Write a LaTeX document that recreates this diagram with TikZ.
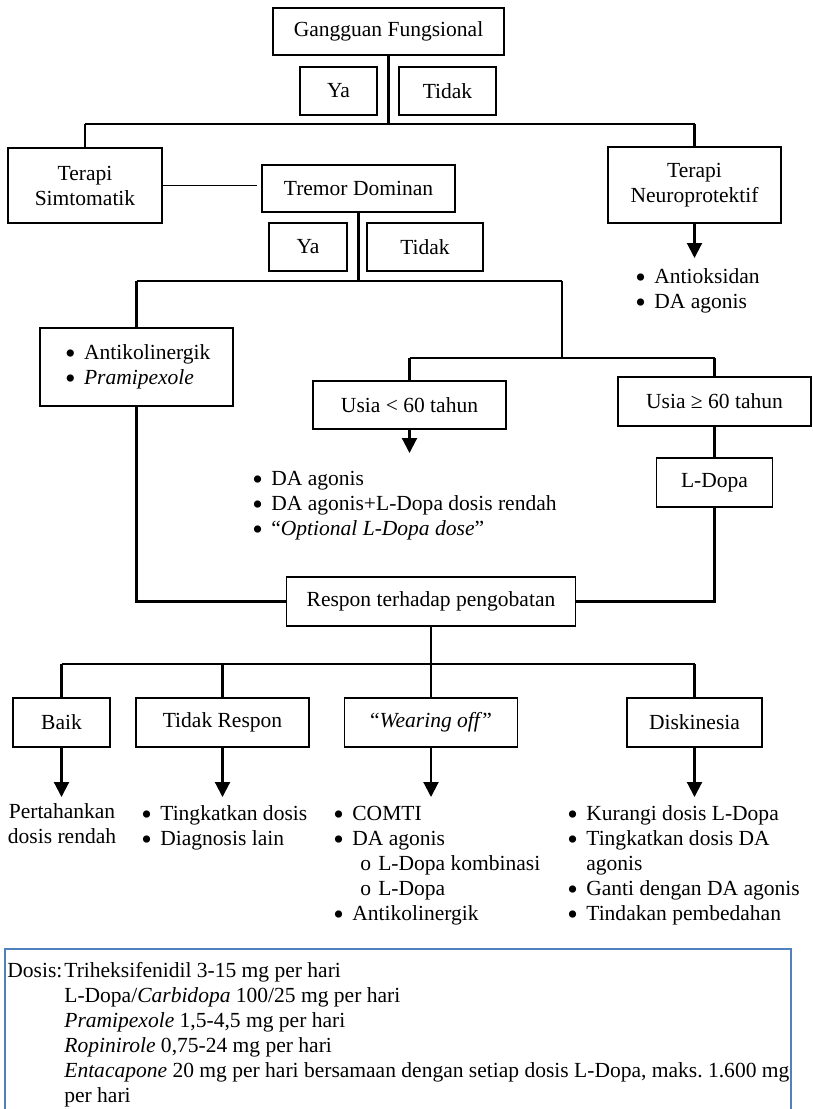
\documentclass[tikz,border=0pt]{standalone}
\usepackage{fontspec}
\setmainfont{Liberation Serif}
\usetikzlibrary{arrows.meta}
\definecolor{boxblue}{HTML}{4F81BD}
\newlength\pxu
\setlength\pxu{0.02cm}
\newcommand\bul[1]{\strut\makebox[19\pxu][l]{\raisebox{-0.18em}{\scalebox{1.4}{•}}}#1}
\newcommand\subbul[1]{\strut\hspace*{27\pxu}\makebox[18\pxu][l]{o}#1}

\begin{document}
\frenchspacing
\begin{tikzpicture}[x=0.02cm,y=-0.02cm,
    every node/.style={font=\fontsize{12.25}{14.23}\selectfont},
    box/.style={draw,line width=1.1pt,inner sep=0pt},
    conn/.style={line width=1.2pt},
    bar/.style={line width=1.6pt},
    arr/.style={line width=1.2pt,-{Triangle[length=0.3cm,width=0.3cm]}},
    lst/.style={anchor=north west,inner sep=0pt,align=left}]
  \useasboundingbox (0,0) rectangle (812,1109);
  % boxes
  \node[box,minimum width=231\pxu,minimum height=47\pxu] (gf) at (388.5,31.5) {Gangguan Fungsional};
  \node[box,minimum width=77\pxu,minimum height=48\pxu] (ya1) at (338.5,91) {Ya};
  \node[box,minimum width=97\pxu,minimum height=48\pxu] (tidak1) at (447.5,91) {Tidak};
  \node[box,align=center,minimum width=154\pxu,minimum height=75\pxu] (ts) at (85,185.5) {Terapi\\Simtomatik};
  \node[box,minimum width=193\pxu,minimum height=47\pxu] (td) at (358.5,188.5) {Tremor Dominan};
  \node[box,align=center,minimum width=173\pxu,minimum height=76\pxu] (tn) at (694.5,185) {Terapi\\Neuroprotektif};
  \node[box,minimum width=78\pxu,minimum height=48\pxu] (ya2) at (308,247) {Ya};
  \node[box,minimum width=116\pxu,minimum height=48\pxu] (tidak2) at (425,247) {Tidak};
  \node[box,align=left,text width=143\pxu,inner xsep=25\pxu,inner ysep=14\pxu] (ak) at (136.5,367) {\bul{Antikolinergik}\\\bul{\textit{Pramipexole}}};
  \node[box,minimum width=193\pxu,minimum height=48\pxu] (muda) at (409.5,405) {Usia < 60 tahun};
  \node[box,minimum width=193\pxu,minimum height=49\pxu] (tua) at (714.5,401.5) {Usia ≥ 60 tahun};
  \node[box,minimum width=116\pxu,minimum height=49\pxu] (ldopa) at (714.5,482.5) {L-Dopa};
  \node[box,minimum width=289\pxu,minimum height=49\pxu] (resp) at (431,601.5) {Respon terhadap pengobatan};
  \node[box,minimum width=97\pxu,minimum height=49\pxu] (baik) at (61.5,722.5) {Baik};
  \node[box,minimum width=173\pxu,minimum height=49\pxu] (tr) at (222.5,722.5) {Tidak Respon};
  \node[box,minimum width=173\pxu,minimum height=49\pxu] (wo) at (431,722.5) {“\textit{Wearing off}”};
  \node[box,minimum width=135\pxu,minimum height=49\pxu] (dk) at (694.5,722.5) {Diskinesia};
  % lists
  \node[lst] (nplist) at (635,265.5) {\bul{Antioksidan}\\\bul{DA agonis}};
  \node[lst] (mudalist) at (252,467.5) {\bul{DA agonis}\\\bul{DA agonis+L-Dopa dosis rendah}\\\bul{“\textit{Optional L-Dopa dose}”}};
  \node[anchor=north,inner sep=0pt,align=center] (baiklist) at (62,800.5) {\strut Pertahankan\\\strut dosis rendah};
  \node[lst] (trlist) at (141,802.5) {\bul{Tingkatkan dosis}\\\bul{Diagnosis lain}};
  \node[lst] (wolist) at (333,802.5) {\bul{COMTI}\\\bul{DA agonis}\\\subbul{L-Dopa kombinasi}\\\subbul{L-Dopa}\\\bul{Antikolinergik}};
  \node[lst] (dklist) at (567,802.5) {\bul{Kurangi dosis L-Dopa}\\\bul{Tingkatkan dosis DA}\\\strut\hspace*{19\pxu}agonis\\\bul{Ganti dengan DA agonis}\\\bul{Tindakan pembedahan}};
  % dosis
  \draw[boxblue,line width=1.1pt] (5,1109) -- (5,949) -- (791,949) -- (791,1109);
  \node[lst] (dosis) at (7,959.5) {\strut\makebox[57\pxu][l]{Dosis:}Triheksifenidil 3-15 mg per hari\\
    \strut\hspace*{57\pxu}L-Dopa/\textit{Carbidopa} 100/25 mg per hari\\
    \strut\hspace*{57\pxu}\textit{Pramipexole} 1,5-4,5 mg per hari\\
    \strut\hspace*{57\pxu}\textit{Ropinirole} 0,75-24 mg per hari\\
    \strut\hspace*{57\pxu}\textit{Entacapone} 20 mg per hari bersamaan dengan setiap dosis L-Dopa, maks. 1.600 mg\\
    \strut\hspace*{57\pxu}per hari};
  % connectors
  \coordinate (h1) at (0,124);
  \coordinate (h2) at (0,281);
  \coordinate (h2r) at (562,281);
  \coordinate (h3) at (562,358);
  \coordinate (h4) at (0,664);
  \coordinate (tnend) at (694.5,258);
  \coordinate (mudaend) at (409.5,453);
  \coordinate (tip) at (0,797);
  \draw[conn] (gf.south) -- (gf.south |- h1);
  \draw[conn] (ts.north) -- (ts.north |- h1);
  \draw[conn] (tn.north) -- (tn.north |- h1);
  \draw[bar] (ts.north |- h1) -- (tn.north |- h1);
  \draw[line width=0.6pt,shorten >=4\pxu] (ts.east) -- (ts.east -| td.west);
  \draw[arr] (tn.south) -- (tnend);
  \draw[conn] (td.south) -- (td.south |- h2);
  \draw[conn] (ak.north) -- (ak.north |- h2);
  \draw[bar] (ak.north |- h2) -- (h2r);
  \draw[conn] (h2r) -- (h3);
  \draw[conn] (muda.north) -- (muda.north |- h3);
  \draw[conn] (tua.north) -- (tua.north |- h3);
  \draw[bar] (muda.north |- h3) -- (tua.north |- h3);
  \draw[arr] (muda.south) -- (mudaend);
  \draw[conn] (tua.south) -- (ldopa.north);
  \draw[bar] (ak.south) |- (resp.west);
  \draw[bar] (ldopa.south) |- (resp.east);
  \draw[conn] (resp.south) -- (resp.south |- h4);
  \draw[bar] (baik.north |- h4) -- (dk.north |- h4);
  \foreach \b in {baik,tr,wo,dk}{
    \draw[conn] (\b.north) -- (\b.north |- h4);
    \draw[arr] (\b.south) -- (\b.south |- tip);
  }
\end{tikzpicture}
\end{document}
